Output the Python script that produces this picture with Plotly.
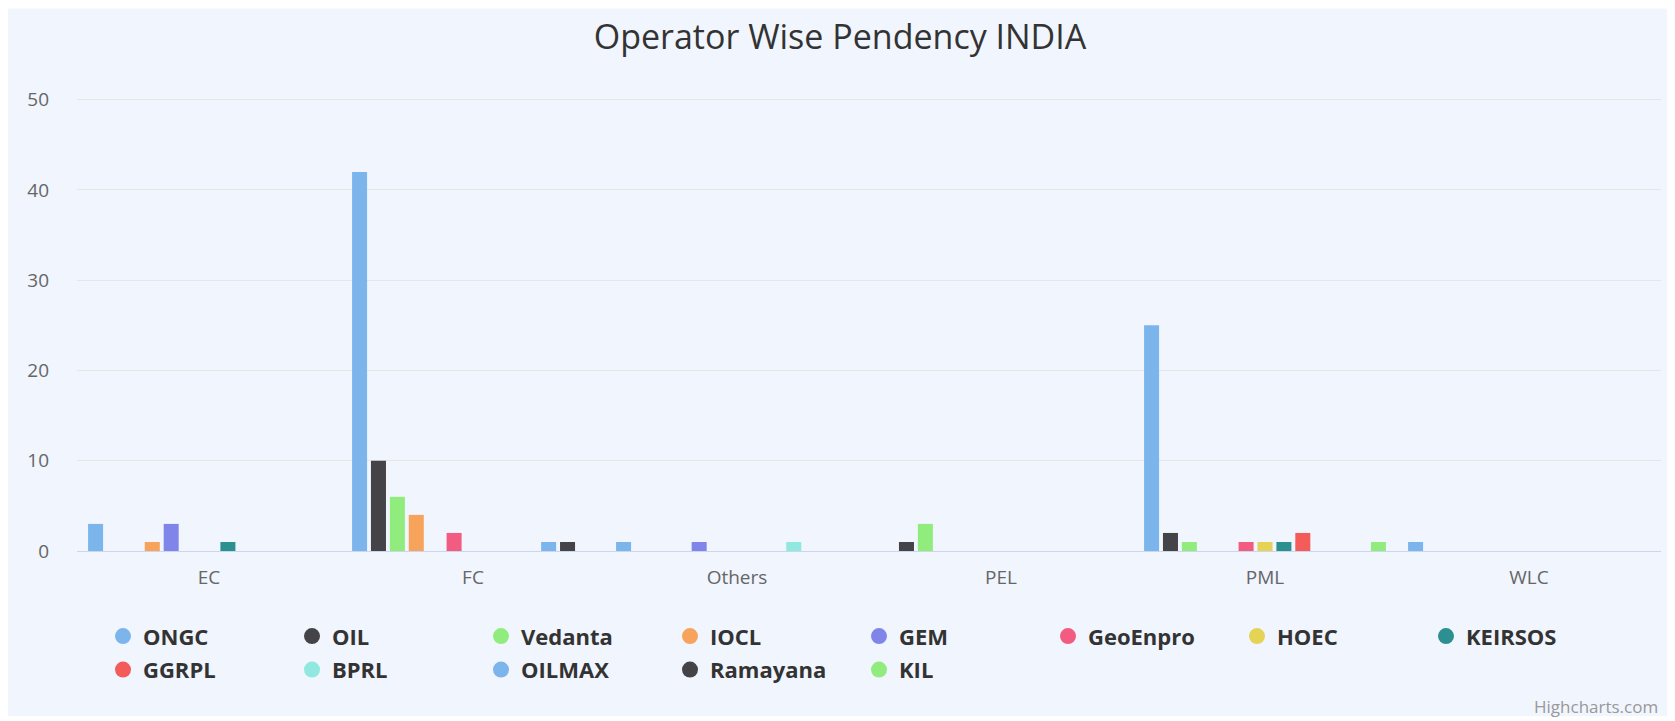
import plotly.graph_objects as go

categories = ["EC", "FC", "Others", "PEL", "PML", "WLC"]

operators = ["ONGC", "OIL", "Vedanta", "IOCL", "GEM", "GeoEnpro", "HOEC",
             "KEIRSOS", "GGRPL", "BPRL", "OILMAX", "Ramayana", "KIL"]

ongc     = [3, 42, 1, 0, 25, 1]
oil      = [0, 10, 0, 1, 2, 0]
vedanta  = [0, 6, 0, 3, 1, 0]
iocl     = [1, 4, 0, 0, 0, 0]
gem      = [3, 0, 1, 0, 0, 0]
geoenpro = [0, 2, 0, 0, 1, 0]
hoec     = [0, 0, 0, 0, 1, 0]
keirsos  = [1, 0, 0, 0, 1, 0]
ggrpl    = [0, 0, 0, 0, 2, 0]
bprl     = [0, 0, 1, 0, 0, 0]
oilmax   = [0, 1, 0, 0, 0, 0]
ramayana = [0, 1, 0, 0, 0, 0]
kil      = [0, 0, 0, 0, 1, 0]

series_values = [ongc, oil, vedanta, iocl, gem, geoenpro, hoec,
                 keirsos, ggrpl, bprl, oilmax, ramayana, kil]

colors = ["#7cb5ec", "#434348", "#90ed7d", "#f7a35c", "#8085e9", "#f15c80",
          "#e4d354", "#2b908f", "#f45b5b", "#91e8e1", "#7cb5ec", "#434348", "#90ed7d"]

y_ticks = [0, 10, 20, 30, 40, 50]
Y_MAX = 50.3  # tiny headroom so the 50 gridline is drawn

# page is rendered with the browser's default 8px body margin
OFF = 8
PAGE_W, PAGE_H = 1675, 721
W, H = PAGE_W - OFF, PAGE_H - OFF
# plot area in page pixels
PB = 550.7
PX_PER_UNIT = (550.7 - 99.3) / 50
PL, PR = 77, 1661
PT = PB - Y_MAX * PX_PER_UNIT
PW, PH = PR - PL, PB - PT

def px_x(p):
    return (p - PL) / PW

def px_y(p):
    return (PB - p) / PH

BG = "#F0F5FE"
FONT = "Open Sans, Noto Sans, sans-serif"
ITEMS_PER_ROW = 8

fig = go.Figure()

for name, vals, col in zip(operators, series_values, colors):
    fig.add_trace(go.Bar(
        x=categories, y=vals, name=name, legendgroup=name,
        marker=dict(color=col, line=dict(width=0)),
        showlegend=False,
    ))

for i, (name, col) in enumerate(zip(operators, colors)):
    fig.add_trace(go.Scatter(
        x=[None], y=[None], mode="markers", name=name, legendgroup=name,
        marker=dict(symbol="circle", size=21, color=col),
        showlegend=True,
        legend="legend" if i < ITEMS_PER_ROW else "legend2",
    ))

legend_common = dict(
    orientation="h",
    x=px_x(103), xanchor="left",
    yanchor="top",
    entrywidth=144, entrywidthmode="pixels",
    font=dict(family=FONT, size=22, color="#333333", weight="bold"),
    bgcolor="rgba(0,0,0,0)",
    traceorder="normal",
)

fig.update_layout(
    width=W, height=H,
    margin=dict(l=PL - OFF, r=PAGE_W - PR, t=PT - OFF, b=PAGE_H - PB,
                pad=0, autoexpand=False),
    paper_bgcolor="white",
    plot_bgcolor="rgba(0,0,0,0)",
    barmode="group",
    bargap=0.069,
    bargroupgap=0.206,
    font=dict(family=FONT, color="#666666"),
    title=dict(
        text="Operator Wise Pendency INDIA",
        x=(840 - OFF) / W, xref="container", xanchor="center",
        y=1 - 29 / H, yref="container", yanchor="middle",
        font=dict(family=FONT, size=34, color="#333333"),
    ),
    xaxis=dict(
        type="category",
        categoryorder="array", categoryarray=categories,
        showgrid=False, zeroline=False,
        showline=True, linecolor="#ccd6eb", linewidth=1,
        ticks="", tickfont=dict(size=19, color="#666666"),
        ticklabelstandoff=9,
    ),
    yaxis=dict(
        range=[0, Y_MAX], tickvals=y_ticks,
        showgrid=True, gridcolor="#e6e6e6", gridwidth=1,
        zeroline=False, showline=False,
        ticks="", tickfont=dict(size=19, color="#666666"),
        ticklabelstandoff=27,
    ),
    legend=dict(legend_common, y=px_y(615)),
    legend2=dict(legend_common, y=px_y(648.5)),
    shapes=[dict(
        type="rect", xref="paper", yref="paper", layer="below",
        x0=px_x(OFF), x1=px_x(1668), y0=px_y(716), y1=px_y(OFF),
        fillcolor=BG, line=dict(width=0),
    )],
    annotations=[dict(
        text="Highcharts.com", showarrow=False,
        xref="paper", yref="paper",
        x=px_x(1660), xanchor="right",
        y=px_y(706), yanchor="middle",
        font=dict(family=FONT, size=17, color="#999999"),
    )],
)

fig.write_html("out.html")
